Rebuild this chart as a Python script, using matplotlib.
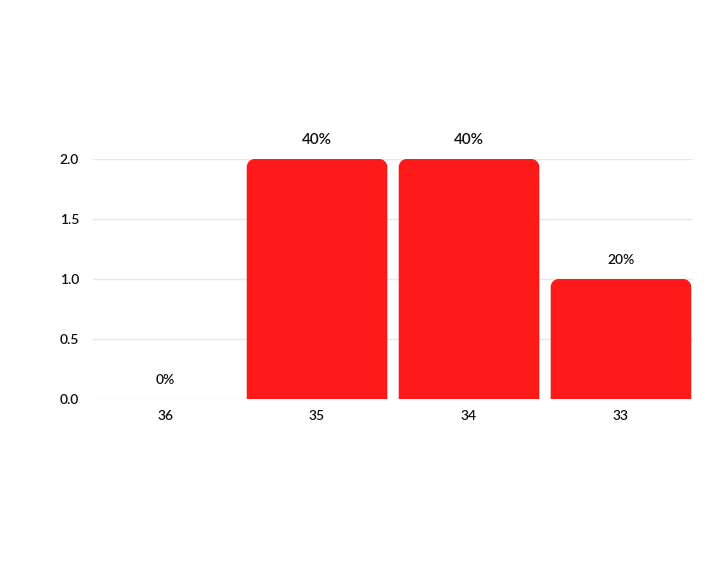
import matplotlib.pyplot as plt
from matplotlib.path import Path
from matplotlib.patches import PathPatch

# data
categories = ["36", "35", "34", "33"]
counts = [0, 2, 2, 1]
percent_labels = ["0%", "40%", "40%", "20%"]
label_sizes = [10, 11, 11, 10]

bar_color = "#ff1a1a"
text_color = "#111111"

plt.rcParams['font.family'] = ['Lato', 'DejaVu Sans']
plt.rcParams['font.weight'] = 'semibold'

fig = plt.figure(figsize=(7.22, 5.68), dpi=100)
ax = fig.add_axes([93 / 722, 169 / 568, 600 / 722, 240 / 568])

x = list(range(len(categories)))
bars = ax.bar(x, counts, width=0.925, color=bar_color)

ax.set_xlim(-0.474, 3.474)
ax.set_ylim(0, 2)

# corner radius in pixels, converted to data units on each axis
radius_px = 8
rx = radius_px / (600 / (3.474 + 0.474))
ry = radius_px / (240 / 2)
k = 0.5523


def rounded_top(x0, w, h):
    x1 = x0 + w
    r_y = min(ry, h / 2)
    verts = [
        (x0, 0), (x0, h - r_y),
        (x0, h - r_y + k * r_y), (x0 + rx - k * rx, h), (x0 + rx, h),
        (x1 - rx, h),
        (x1 - rx + k * rx, h), (x1, h - r_y + k * r_y), (x1, h - r_y),
        (x1, 0), (x0, 0),
    ]
    codes = [Path.MOVETO, Path.LINETO,
             Path.CURVE4, Path.CURVE4, Path.CURVE4,
             Path.LINETO,
             Path.CURVE4, Path.CURVE4, Path.CURVE4,
             Path.LINETO, Path.CLOSEPOLY]
    return Path(verts, codes)


# swap the square bars for ones with rounded top corners
for b in bars:
    h = b.get_height()
    b.set_visible(False)
    if h <= 0:
        continue
    ax.add_patch(PathPatch(rounded_top(b.get_x(), b.get_width(), h),
                           facecolor=bar_color, edgecolor="none", zorder=3))

# percentage labels above the bars
for xi, c, lab, fs in zip(x, counts, percent_labels, label_sizes):
    ax.annotate(lab, (xi, c), xytext=(0, 13.5), textcoords="offset points",
                ha="center", va="center", fontsize=fs, color=text_color,
                annotation_clip=False)

ax.set_xticks(x)
ax.set_xticklabels(categories)
ax.set_yticks([0, 0.5, 1.0, 1.5, 2.0])
ax.set_yticklabels(["0.0", "0.5", "1.0", "1.5", "2.0"])
ax.tick_params(length=0, labelsize=10, colors=text_color)
ax.tick_params(axis="x", pad=8)
ax.tick_params(axis="y", pad=10)

ax.grid(axis="y", color="#e8e8e8", linewidth=1)
ax.set_axisbelow(True)
for s in ax.spines.values():
    s.set_visible(False)

fig.savefig("out.png", dpi=100)
